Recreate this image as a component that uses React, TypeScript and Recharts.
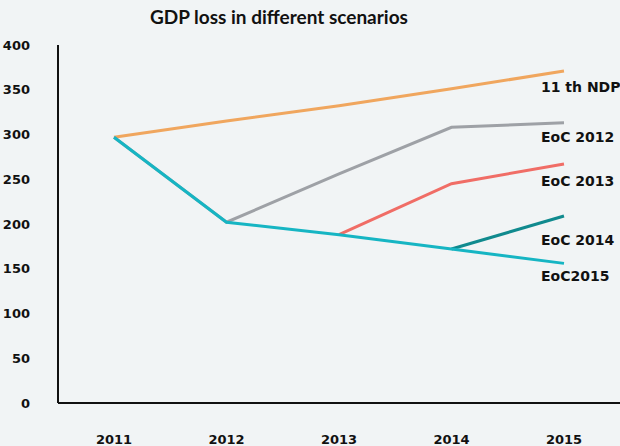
import { LineChart, Line, XAxis, YAxis, LabelList } from "recharts";

const years = ["2011", "2012", "2013", "2014", "2015"];
const ndp11 = [297, 315, 332, 351, 371];
const eoc2012 = [297, 202, 256, 308, 313];
const eoc2013 = [null, null, 188, 245, 267];
const eoc2014 = [null, null, null, 172, 209];
const eoc2015 = [297, 202, 188, 172, 156];
const yTicks = [0, 50, 100, 150, 200, 250, 300, 350, 400];

const data = years.map((year, i) => ({
  year,
  ndp11: ndp11[i],
  eoc2012: eoc2012[i],
  eoc2013: eoc2013[i],
  eoc2014: eoc2014[i],
  eoc2015: eoc2015[i],
}));

const font = "'DejaVu Sans', Verdana, sans-serif";

// draws the series name under the last point only
const endLabel = (text: string, dy: number) => (props: any) => {
  const { x, y, index } = props;
  if (index !== years.length - 1) return null;
  return (
    <text x={x - 23} y={y + dy} fill="#111" fontFamily={font} fontWeight="bold" fontSize={14} dominantBaseline="central">
      {text}
    </text>
  );
};

const series = [
  { key: "ndp11", name: "11 th NDP", color: "#F0A65E", dy: 16 },
  { key: "eoc2012", name: "EoC 2012", color: "#9EA1A6", dy: 14 },
  { key: "eoc2013", name: "EoC 2013", color: "#F06D66", dy: 17 },
  { key: "eoc2014", name: "EoC 2014", color: "#108A8E", dy: 24 },
  { key: "eoc2015", name: "EoC2015", color: "#16B5C3", dy: 13 },
];

export default function App() {
  return (
    <div style={{ position: "fixed", left: 0, top: 0, width: 620, height: 446, background: "#F1F4F5" }}>
      <div
        style={{
          position: "absolute",
          top: 5,
          left: 150,
          fontFamily: "Lato, sans-serif",
          fontWeight: "bold",
          fontSize: 19,
          color: "#111",
          whiteSpace: "nowrap",
        }}
      >
        GDP loss in different scenarios
      </div>
      <LineChart width={620} height={446} data={data} margin={{ top: 45, right: 0, bottom: 0, left: 0 }}>
        <XAxis
          dataKey="year"
          padding={{ left: 56, right: 56 }}
          height={43}
          tickLine={false}
          tickMargin={26}
          axisLine={{ stroke: "#111", strokeWidth: 2 }}
          tick={{ fill: "#111", fontFamily: font, fontWeight: "bold", fontSize: 13 }}
        />
        <YAxis
          domain={[0, 400]}
          ticks={yTicks}
          width={58}
          tickLine={false}
          tickMargin={22}
          axisLine={{ stroke: "#111", strokeWidth: 2 }}
          tick={{ fill: "#111", fontFamily: font, fontWeight: "bold", fontSize: 13 }}
        />
        {series.map((s) => (
          <Line
            key={s.key}
            dataKey={s.key}
            stroke={s.color}
            strokeWidth={3}
            dot={false}
            activeDot={false}
            isAnimationActive={false}
          >
            <LabelList dataKey={s.key} content={endLabel(s.name, s.dy)} />
          </Line>
        ))}
      </LineChart>
    </div>
  );
}
